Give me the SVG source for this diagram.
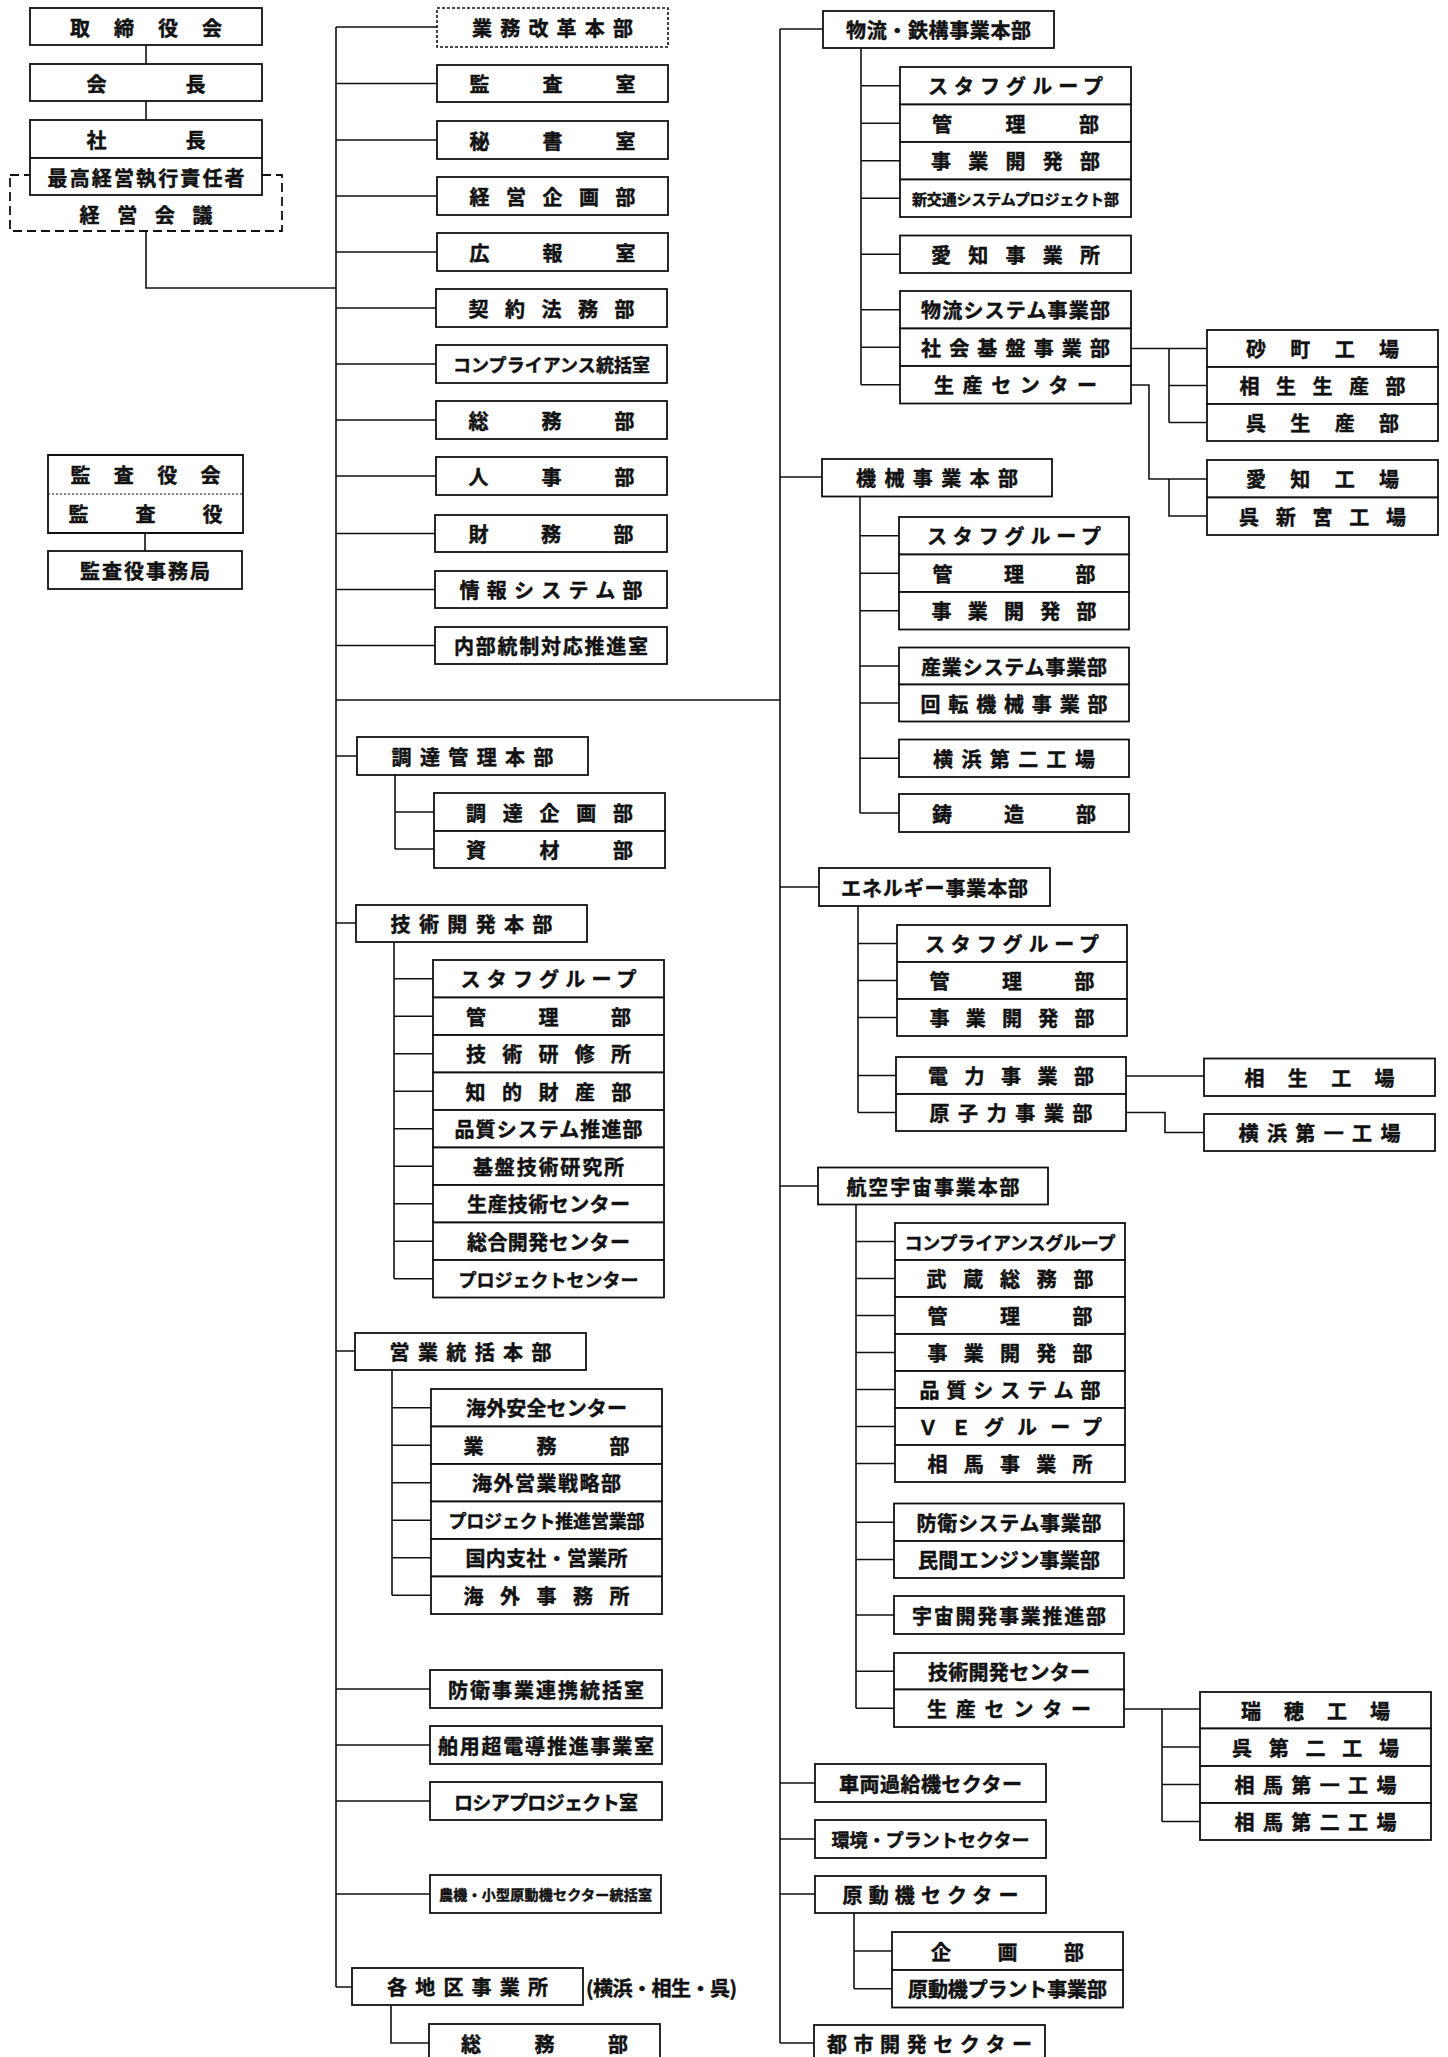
<svg xmlns="http://www.w3.org/2000/svg" width="1448" height="2057" viewBox="0 0 1448 2057">
<style>
.b{fill:#fff;stroke:#111;stroke-width:1.8}
.bd{fill:none;stroke:#111;stroke-width:1.8;stroke-dasharray:9 5}
.bo{fill:#fff;stroke:#111;stroke-width:1.6;stroke-dasharray:3 2}
.s{fill:none;stroke:#111;stroke-width:1.8}
.dv{fill:none;stroke:#111;stroke-width:1.2;stroke-dasharray:2 2}
.c{fill:none;stroke:#111;stroke-width:1.6}
.t{font-family:"Noto Sans CJK JP","Noto Sans CJK SC",sans-serif;font-weight:700;font-size:20px;fill:#111;stroke:#111;stroke-width:0.45;text-anchor:middle;dominant-baseline:central}
.f18{font-size:18px}.f15{font-size:15px}.f14{font-size:14px}.f19{font-size:19px}
.st{text-anchor:start}
</style>
<rect width="1448" height="2057" fill="#fff"/>
<g id="connectors">
<path class="c" d="M146,45V64M146,101V120M146,231V288H336M145,533V551"/>
<path class="c" d="M336,27V1987M336,27H437M336,83.5H437M336,140H437M336,196H437M336,252H437M336,308H436M336,364H436M336,420H436M336,476H436M336,533.5H435M336,589.5H435M336,645.5H435M336,700H780M336,756H357M336,923H356M336,1351H355M336,1689H430M336,1745H430M336,1801H430M336,1894H430M336,1987H352"/>
<path class="c" d="M395,775V849M395,812H434M395,849H434"/>
<path class="c" d="M394,942V1278.75M394,978.75H433M394,1016.25H433M394,1053.75H433M394,1091.25H433M394,1128.75H433M394,1166.25H433M394,1203.75H433M394,1241.25H433M394,1278.75H433"/>
<path class="c" d="M392,1370V1595.25M392,1407.75H431M392,1445.25H431M392,1482.75H431M392,1520.25H431M392,1557.75H431M392,1595.25H431"/>
<path class="c" d="M391,2005V2043H429"/>
<path class="c" d="M780,29V2043M780,29H823M780,477H822M780,887H819M780,1186H818M780,1783H815M780,1839H815M780,1894H815M780,2043H814"/>
<path class="c" d="M861,48V384.75M861,85.75H900M861,123.25H900M861,160.75H900M861,198.25H900M861,254.25H900M861,309.75H900M861,347.25H900M861,384.75H900"/>
<path class="c" d="M1131,348.5H1207M1169,348.5V422.5M1169,385.5H1207M1169,422.5H1207"/>
<path class="c" d="M1131,385H1149V479H1207M1169,479V516H1207"/>
<path class="c" d="M860,496.5V813M860,535.75H899M860,573.25H899M860,610.75H899M860,666H899M860,703H899M860,758.25H899M860,813H899"/>
<path class="c" d="M858,906V1112.5M858,943.5H897M858,980.5H897M858,1017.5H897M858,1075.5H896M858,1112.5H896"/>
<path class="c" d="M1126,1076H1204M1126,1112.5H1165V1132.5H1204"/>
<path class="c" d="M856,1204.5V1708.25M856,1241.5H895M856,1278.5H895M856,1315.5H895M856,1352.5H895M856,1389.5H895M856,1426.5H895M856,1463.5H895M856,1522.25H894M856,1559.5H894M856,1615H894M856,1671.25H894M856,1708.25H894"/>
<path class="c" d="M1124,1709H1200M1162,1709V1821.5M1162,1747H1200M1162,1784.5H1200M1162,1821.5H1200"/>
<path class="c" d="M854,1913V1988.75M854,1951H892M854,1988.75H892"/>
</g>
<g id="n05"><rect class="bd" x="10" y="175" width="272" height="56"/><text class="t" x="146" y="214" textLength="133">経営会議</text></g>
<g id="n01"><rect class="b" x="30" y="8" width="232" height="37"/><text class="t" x="146" y="27" textLength="152">取締役会</text></g>
<g id="n02"><rect class="b" x="30" y="64" width="232" height="37"/><text class="t" x="146" y="83" textLength="119">会長</text></g>
<g id="n03"><rect class="b" x="30" y="120" width="232" height="38"/><text class="t" x="146" y="139" textLength="119">社長</text></g>
<g id="n04"><rect class="b" x="30" y="158" width="232" height="37"/><text class="t" x="146" y="177" textLength="197">最高経営執行責任者</text></g>
<g id="n06"><rect x="48" y="455" width="195" height="39" fill="#fff"/><path class="s" d="M48,494V455H243V494"/><path class="dv" d="M48,494H243"/><text class="t" x="145.5" y="474.5" textLength="150">監査役会</text></g>
<g id="n07"><path class="s" d="M48,494V533H243V494"/><text class="t" x="145.5" y="513.5" textLength="154">監査役</text></g>
<g id="n08"><rect class="b" x="48" y="551" width="194" height="38"/><text class="t" x="145" y="570" textLength="130">監査役事務局</text></g>
<g id="n09"><rect class="bo" x="437" y="8" width="231" height="39"/><text class="t" x="552.5" y="27.5" textLength="161">業務改革本部</text></g>
<g id="n10"><rect class="b" x="437" y="65" width="231" height="37"/><text class="t" x="552.5" y="83.5" textLength="166">監査室</text></g>
<g id="n11"><rect class="b" x="437" y="121" width="231" height="38"/><text class="t" x="552.5" y="140" textLength="166">秘書室</text></g>
<g id="n12"><rect class="b" x="437" y="177" width="231" height="38"/><text class="t" x="552.5" y="196" textLength="166">経営企画部</text></g>
<g id="n13"><rect class="b" x="437" y="233" width="231" height="38"/><text class="t" x="552.5" y="252" textLength="166">広報室</text></g>
<g id="n14"><rect class="b" x="436" y="289" width="231" height="38"/><text class="t" x="551.5" y="308" textLength="166">契約法務部</text></g>
<g id="n15"><rect class="b" x="436" y="345" width="231" height="38"/><text class="t f18" x="551.5" y="364" textLength="197">コンプライアンス統括室</text></g>
<g id="n16"><rect class="b" x="436" y="401" width="231" height="38"/><text class="t" x="551.5" y="420" textLength="166">総務部</text></g>
<g id="n17"><rect class="b" x="436" y="457" width="231" height="38"/><text class="t" x="551.5" y="476" textLength="166">人事部</text></g>
<g id="n18"><rect class="b" x="435" y="515" width="232" height="37"/><text class="t" x="551" y="533.5" textLength="165">財務部</text></g>
<g id="n19"><rect class="b" x="435" y="571" width="232" height="37"/><text class="t" x="551" y="589.5" textLength="183">情報システム部</text></g>
<g id="n20"><rect class="b" x="435" y="627" width="232" height="37"/><text class="t" x="551" y="645.5" textLength="194">内部統制対応推進室</text></g>
<g id="n21"><rect class="b" x="357" y="737" width="231" height="38"/><text class="t" x="472.5" y="756" textLength="162">調達管理本部</text></g>
<g id="n22"><rect class="b" x="434" y="793" width="231" height="38"/><text class="t" x="549.5" y="812" textLength="167">調達企画部</text></g>
<g id="n23"><rect class="b" x="434" y="831" width="231" height="37"/><text class="t" x="549.5" y="849.5" textLength="167">資材部</text></g>
<g id="n24"><rect class="b" x="356" y="905" width="231" height="37"/><text class="t" x="471.5" y="923.5" textLength="162">技術開発本部</text></g>
<g id="n25"><rect class="b" x="433" y="960" width="231" height="37.5"/><text class="t" x="548.5" y="978.75" textLength="176">スタフグループ</text></g>
<g id="n26"><rect class="b" x="433" y="997.5" width="231" height="37.5"/><text class="t" x="548.5" y="1016.25" textLength="165">管理部</text></g>
<g id="n27"><rect class="b" x="433" y="1035" width="231" height="37.5"/><text class="t" x="548.5" y="1053.75" textLength="165">技術研修所</text></g>
<g id="n28"><rect class="b" x="433" y="1072.5" width="231" height="37.5"/><text class="t" x="548.5" y="1091.25" textLength="166">知的財産部</text></g>
<g id="n29"><rect class="b" x="433" y="1110" width="231" height="37.5"/><text class="t" x="548.5" y="1128.75" textLength="188">品質システム推進部</text></g>
<g id="n30"><rect class="b" x="433" y="1147.5" width="231" height="37.5"/><text class="t" x="548.5" y="1166.25" textLength="151">基盤技術研究所</text></g>
<g id="n31"><rect class="b" x="433" y="1185" width="231" height="37.5"/><text class="t" x="548.5" y="1203.75" textLength="163">生産技術センター</text></g>
<g id="n32"><rect class="b" x="433" y="1222.5" width="231" height="37.5"/><text class="t" x="548.5" y="1241.25" textLength="163">総合開発センター</text></g>
<g id="n33"><rect class="b" x="433" y="1260" width="231" height="37.5"/><text class="t f18" x="548.5" y="1278.75" textLength="180">プロジェクトセンター</text></g>
<g id="n34"><rect class="b" x="355" y="1333" width="231" height="37"/><text class="t" x="470.5" y="1351.5" textLength="162">営業統括本部</text></g>
<g id="n35"><rect class="b" x="431" y="1389" width="231" height="37.5"/><text class="t" x="546.5" y="1407.75" textLength="161">海外安全センター</text></g>
<g id="n36"><rect class="b" x="431" y="1426.5" width="231" height="37.5"/><text class="t" x="546.5" y="1445.25" textLength="166">業務部</text></g>
<g id="n37"><rect class="b" x="431" y="1464" width="231" height="37.5"/><text class="t" x="546.5" y="1482.75" textLength="149">海外営業戦略部</text></g>
<g id="n38"><rect class="b" x="431" y="1501.5" width="231" height="37.5"/><text class="t f18" x="546.5" y="1520.25" textLength="196">プロジェクト推進営業部</text></g>
<g id="n39"><rect class="b" x="431" y="1539" width="231" height="37.5"/><text class="t" x="546.5" y="1557.75" textLength="162">国内支社・営業所</text></g>
<g id="n40"><rect class="b" x="431" y="1576.5" width="231" height="37.5"/><text class="t" x="546.5" y="1595.25" textLength="166">海外事務所</text></g>
<g id="n41"><rect class="b" x="430" y="1670" width="232" height="38"/><text class="t" x="546" y="1689" textLength="196">防衛事業連携統括室</text></g>
<g id="n42"><rect class="b" x="430" y="1726" width="232" height="38"/><text class="t" x="546" y="1745" textLength="216">舶用超電導推進事業室</text></g>
<g id="n43"><rect class="b" x="430" y="1782" width="232" height="38"/><text class="t f19" x="546" y="1801" textLength="184">ロシアプロジェクト室</text></g>
<g id="n44"><rect class="b" x="430" y="1875" width="231" height="38"/><text class="t f14" x="545.5" y="1894" textLength="213">農機・小型原動機セクター統括室</text></g>
<g id="n45"><rect class="b" x="352" y="1968" width="231" height="37"/><text class="t" x="467.5" y="1986.5" textLength="161">各地区事業所</text></g>
<g id="n46"><text class="t st" x="586" y="1987" textLength="151">(横浜・相生・呉)</text></g>
<g id="n47"><rect class="b" x="429" y="2024" width="231" height="40"/><text class="t" x="544.5" y="2043" textLength="167">総務部</text></g>
<g id="n48"><rect class="b" x="823" y="11" width="231" height="37"/><text class="t" x="938.5" y="29.5" textLength="185">物流・鉄構事業本部</text></g>
<g id="n49"><rect class="b" x="900" y="67" width="231" height="37.5"/><text class="t" x="1015.5" y="85.75" textLength="175">スタフグループ</text></g>
<g id="n50"><rect class="b" x="900" y="104.5" width="231" height="37.5"/><text class="t" x="1015.5" y="123.25" textLength="167">管理部</text></g>
<g id="n51"><rect class="b" x="900" y="142" width="231" height="37.5"/><text class="t" x="1015.5" y="160.75" textLength="169">事業開発部</text></g>
<g id="n52"><rect class="b" x="900" y="179.5" width="231" height="37.5"/><text class="t f15" x="1015.5" y="198.25" textLength="207">新交通システムプロジェクト部</text></g>
<g id="n53"><rect class="b" x="900" y="235.5" width="231" height="37.5"/><text class="t" x="1015.5" y="254.25" textLength="169">愛知事業所</text></g>
<g id="n54"><rect class="b" x="900" y="291" width="231" height="37.5"/><text class="t" x="1015.5" y="309.75" textLength="189">物流システム事業部</text></g>
<g id="n55"><rect class="b" x="900" y="328.5" width="231" height="37.5"/><text class="t" x="1015.5" y="347.25" textLength="189">社会基盤事業部</text></g>
<g id="n56"><rect class="b" x="900" y="366" width="231" height="37.5"/><text class="t" x="1015.5" y="384.75" textLength="163">生産センター</text></g>
<g id="n57"><rect class="b" x="1207" y="330" width="231" height="37"/><text class="t" x="1322.5" y="348.5" textLength="153">砂町工場</text></g>
<g id="n58"><rect class="b" x="1207" y="367" width="231" height="37"/><text class="t" x="1322.5" y="385.5" textLength="166">相生生産部</text></g>
<g id="n59"><rect class="b" x="1207" y="404" width="231" height="37"/><text class="t" x="1322.5" y="422.5" textLength="153">呉生産部</text></g>
<g id="n60"><rect class="b" x="1207" y="460" width="231" height="37.5"/><text class="t" x="1322.5" y="478.75" textLength="153">愛知工場</text></g>
<g id="n61"><rect class="b" x="1207" y="497.5" width="231" height="37.5"/><text class="t" x="1322.5" y="516.25" textLength="167">呉新宮工場</text></g>
<g id="n62"><rect class="b" x="822" y="459" width="230" height="37.5"/><text class="t" x="937" y="477.75" textLength="162">機械事業本部</text></g>
<g id="n63"><rect class="b" x="899" y="517" width="230" height="37.5"/><text class="t" x="1014" y="535.75" textLength="174">スタフグループ</text></g>
<g id="n64"><rect class="b" x="899" y="554.5" width="230" height="37.5"/><text class="t" x="1014" y="573.25" textLength="163">管理部</text></g>
<g id="n65"><rect class="b" x="899" y="592" width="230" height="37.5"/><text class="t" x="1014" y="610.75" textLength="165">事業開発部</text></g>
<g id="n66"><rect class="b" x="899" y="647.5" width="230" height="37"/><text class="t" x="1014" y="666" textLength="186">産業システム事業部</text></g>
<g id="n67"><rect class="b" x="899" y="684.5" width="230" height="37"/><text class="t" x="1014" y="703" textLength="187">回転機械事業部</text></g>
<g id="n68"><rect class="b" x="899" y="739.5" width="230" height="37.5"/><text class="t" x="1014" y="758.25" textLength="162">横浜第二工場</text></g>
<g id="n69"><rect class="b" x="899" y="794" width="230" height="38"/><text class="t" x="1014" y="813" textLength="164">鋳造部</text></g>
<g id="n70"><rect class="b" x="819" y="868" width="231" height="38"/><text class="t" x="934.5" y="887" textLength="187">エネルギー事業本部</text></g>
<g id="n71"><rect class="b" x="897" y="925" width="230" height="37"/><text class="t" x="1012" y="943.5" textLength="174">スタフグループ</text></g>
<g id="n72"><rect class="b" x="897" y="962" width="230" height="37"/><text class="t" x="1012" y="980.5" textLength="165">管理部</text></g>
<g id="n73"><rect class="b" x="897" y="999" width="230" height="37"/><text class="t" x="1012" y="1017.5" textLength="165">事業開発部</text></g>
<g id="n74"><rect class="b" x="896" y="1057" width="230" height="37"/><text class="t" x="1011" y="1075.5" textLength="166">電力事業部</text></g>
<g id="n75"><rect class="b" x="896" y="1094" width="230" height="37"/><text class="t" x="1011" y="1112.5" textLength="163">原子力事業部</text></g>
<g id="n76"><rect class="b" x="1204" y="1058.5" width="231" height="37.5"/><text class="t" x="1319.5" y="1077.25" textLength="150">相生工場</text></g>
<g id="n77"><rect class="b" x="1204" y="1114" width="231" height="37"/><text class="t" x="1319.5" y="1132.5" textLength="162">横浜第一工場</text></g>
<g id="n78"><rect class="b" x="818" y="1167.5" width="230" height="37"/><text class="t" x="933" y="1186" textLength="173">航空宇宙事業本部</text></g>
<g id="n79"><rect class="b" x="895" y="1223" width="230" height="37"/><text class="t f18" x="1010" y="1241.5" textLength="211">コンプライアンスグループ</text></g>
<g id="n80"><rect class="b" x="895" y="1260" width="230" height="37"/><text class="t" x="1010" y="1278.5" textLength="167">武蔵総務部</text></g>
<g id="n81"><rect class="b" x="895" y="1297" width="230" height="37"/><text class="t" x="1010" y="1315.5" textLength="165">管理部</text></g>
<g id="n82"><rect class="b" x="895" y="1334" width="230" height="37"/><text class="t" x="1010" y="1352.5" textLength="165">事業開発部</text></g>
<g id="n83"><rect class="b" x="895" y="1371" width="230" height="37"/><text class="t" x="1010" y="1389.5" textLength="181">品質システム部</text></g>
<g id="n84"><rect class="b" x="895" y="1408" width="230" height="37"/><text class="t" x="1010" y="1426.5" textLength="184">ＶＥグループ</text></g>
<g id="n85"><rect class="b" x="895" y="1445" width="230" height="37"/><text class="t" x="1010" y="1463.5" textLength="165">相馬事業所</text></g>
<g id="n86"><rect class="b" x="894" y="1503.5" width="230" height="37.5"/><text class="t" x="1009" y="1522.25" textLength="185">防衛システム事業部</text></g>
<g id="n87"><rect class="b" x="894" y="1541" width="230" height="37"/><text class="t" x="1009" y="1559.5" textLength="182">民間エンジン事業部</text></g>
<g id="n88"><rect class="b" x="894" y="1596" width="230" height="38"/><text class="t" x="1009" y="1615" textLength="194">宇宙開発事業推進部</text></g>
<g id="n89"><rect class="b" x="894" y="1653" width="230" height="36.5"/><text class="t" x="1009" y="1671.25" textLength="162">技術開発センター</text></g>
<g id="n90"><rect class="b" x="894" y="1689.5" width="230" height="37.5"/><text class="t" x="1009" y="1708.25" textLength="164">生産センター</text></g>
<g id="n91"><rect class="b" x="1200" y="1692" width="231" height="36.5"/><text class="t" x="1315.5" y="1710.25" textLength="149">瑞穂工場</text></g>
<g id="n92"><rect class="b" x="1200" y="1728.5" width="231" height="37.5"/><text class="t" x="1315.5" y="1747.25" textLength="167">呉第二工場</text></g>
<g id="n93"><rect class="b" x="1200" y="1766" width="231" height="37"/><text class="t" x="1315.5" y="1784.5" textLength="162">相馬第一工場</text></g>
<g id="n94"><rect class="b" x="1200" y="1803" width="231" height="37"/><text class="t" x="1315.5" y="1821.5" textLength="162">相馬第二工場</text></g>
<g id="n95"><rect class="b" x="815" y="1764" width="231" height="38"/><text class="t" x="930.5" y="1783" textLength="183">車両過給機セクター</text></g>
<g id="n96"><rect class="b" x="815" y="1820" width="231" height="38"/><text class="t f18" x="930.5" y="1839" textLength="198">環境・プラントセクター</text></g>
<g id="n97"><rect class="b" x="815" y="1876" width="231" height="37"/><text class="t" x="930.5" y="1894.5" textLength="176">原動機セクター</text></g>
<g id="n98"><rect class="b" x="892" y="1932" width="231" height="38"/><text class="t" x="1007.5" y="1951" textLength="153">企画部</text></g>
<g id="n99"><rect class="b" x="892" y="1970" width="231" height="37.5"/><text class="t" x="1007.5" y="1988.75" textLength="199">原動機プラント事業部</text></g>
<g id="n100"><rect class="b" x="814" y="2025" width="231" height="40"/><text class="t" x="929.5" y="2043" textLength="205">都市開発セクター</text></g>
</svg>
